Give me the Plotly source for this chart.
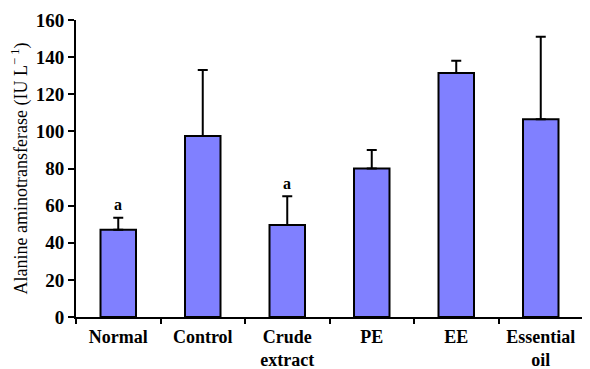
import plotly.graph_objects as go

categories = ["Normal", "Control", "Crude<br>extract", "PE", "EE", "Essential<br>oil"]
values = [47, 97.5, 49.5, 80, 131.5, 106.5]
errors = [6.5, 35.5, 15.5, 10, 6.5, 44.5]
letters = ["a", "", "a", "", "", ""]
y_ticks = [0, 20, 40, 60, 80, 100, 120, 140, 160]

font_family = "Liberation Serif, Times New Roman, serif"

fig = go.Figure()
fig.add_trace(go.Bar(
    x=categories, y=values, width=0.42,
    marker=dict(color="#8080FF", line=dict(color="black", width=2)),
    error_y=dict(type="data", array=errors, arrayminus=[0]*len(errors),
                 symmetric=False, color="black", thickness=2, width=5),
))

for c, v, e, t in zip(categories, values, errors, letters):
    if t:
        fig.add_annotation(x=c, y=v + e, text="<b>%s</b>" % t, showarrow=False,
                           yshift=13, font=dict(family=font_family, size=16, color="black"))

# page body has an 8px margin: size the figure to fit the 590x369 window
fig.update_layout(
    width=582, height=361,
    margin=dict(l=68, r=7, t=12, b=52),
    paper_bgcolor="white", plot_bgcolor="white",
    showlegend=False,
    font=dict(family=font_family, size=17, color="black"),
    xaxis=dict(
        type="category", range=[-0.5, 5.5], tickson="boundaries", automargin=False,
        ticks="outside", ticklen=5, tickwidth=2, tickcolor="black",
        ticklabelstandoff=2,
        showline=True, linecolor="black", linewidth=2,
        showgrid=False, zeroline=False,
        tickfont=dict(family=font_family, size=18, color="black", weight="bold"),
    ),
    yaxis=dict(
        range=[0, 160], tickvals=y_ticks, automargin=False,
        ticks="outside", ticklen=6, tickwidth=2, tickcolor="black",
        showline=True, linecolor="black", linewidth=2,
        showgrid=False, zeroline=False,
        tickfont=dict(family=font_family, size=19, color="black", weight="bold"),
        title=dict(text="Alanine aminotransferase (IU L<sup>\u2212 1</sup>)",
                   font=dict(family=font_family, size=18, color="black"), standoff=4),
    ),
)

fig.write_html("out.html")
